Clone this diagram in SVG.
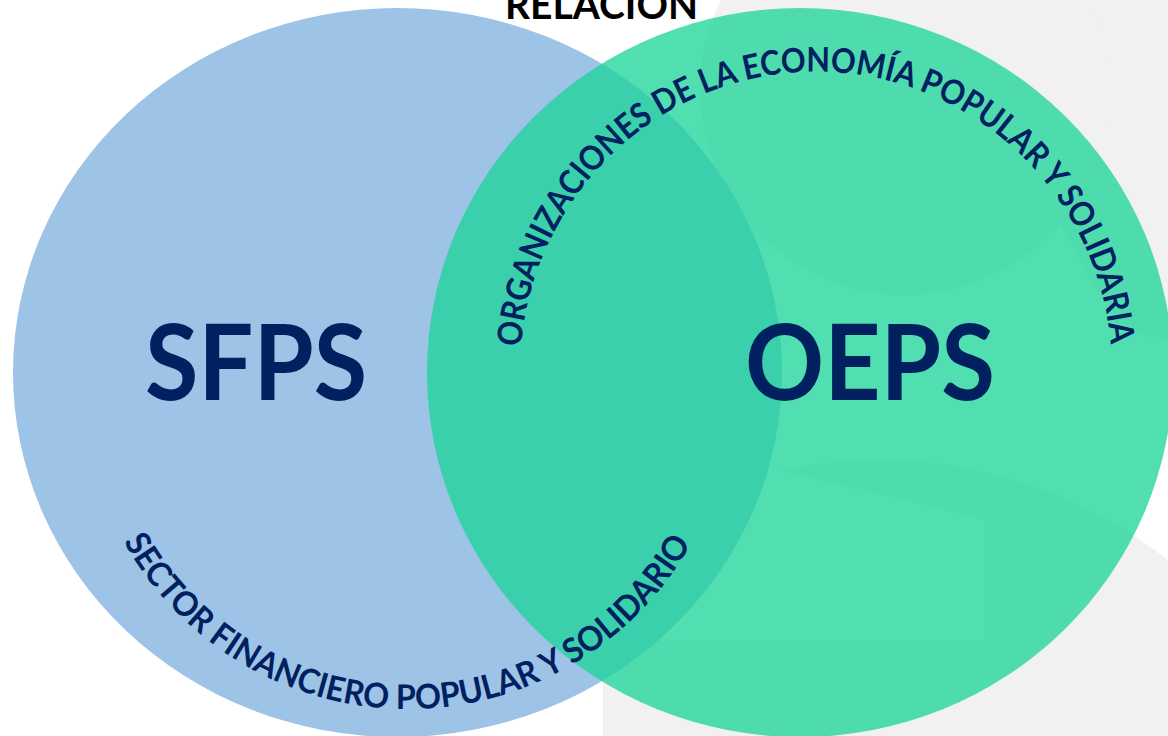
<svg xmlns="http://www.w3.org/2000/svg" width="1168" height="736" viewBox="0 0 1168 736">
  <defs>
    <style>
      .bg { fill: #f1f1f3; }
      .label { font-family: Lato, "Open Sans", "Liberation Sans", sans-serif; font-weight: 700; fill: #002060; }
      .arc { font-family: Lato, "Open Sans", "Liberation Sans", sans-serif; font-weight: 700; fill: #002060; font-size: 34px; }
      .title { font-family: Lato, "Open Sans", "Liberation Sans", sans-serif; font-weight: 700; fill: #000000; font-size: 40px; }
    </style>
    <path id="arcBottom" d="M 123.7 541.6 A 325 325 0 0 0 692.3 541.6"/>
    <path id="arcTop" d="M 521 347 A 296 300 0 0 1 1111 347"/>
  </defs>

  <g id="background">
    <rect x="0" y="0" width="1168" height="736" fill="#ffffff"/>
    <polygon class="bg" points="900,0 1168,0 1168,340 1120,330 1000,120"/>
    <circle class="bg" cx="905" cy="90" r="205" fill="#eeeef0"/>
    <polygon class="bg" points="603,640 985,640 985,736 603,736"/>
    <polygon class="bg" points="1075,600 1168,560 1168,736 1122,736"/>
    <path class="bg" d="M 780 470 Q 1000 430 1168 560 L 1168 736 L 985 736 L 985 520 Z" fill="#f3f3f5"/>
  </g>

  <g id="node-sfps">
    <ellipse cx="397.5" cy="372.5" rx="384.5" ry="364.5" fill="#9dc3e6"/>
  </g>

  <g id="node-oeps">
    <ellipse cx="800" cy="372.5" rx="373" ry="364.5" fill="#1ad399" fill-opacity="0.76"/>
  </g>

  <g id="labels">
    <text class="label" x="145" y="400" font-size="105" textLength="222" lengthAdjust="spacingAndGlyphs">SFPS</text>
    <text class="label" x="745" y="400" font-size="105" textLength="250" lengthAdjust="spacingAndGlyphs">OEPS</text>
    <text class="arc"><textPath href="#arcBottom" textLength="690" lengthAdjust="spacingAndGlyphs">SECTOR FINANCIERO POPULAR Y SOLIDARIO</textPath></text>
    <text class="arc"><textPath href="#arcTop" textLength="884" lengthAdjust="spacingAndGlyphs">ORGANIZACIONES DE LA ECONOMÍA POPULAR Y SOLIDARIA</textPath></text>
  </g>

  <g id="title">
    <text class="title" x="505" y="19" textLength="193" lengthAdjust="spacingAndGlyphs">RELACIÓN</text>
  </g>

  <g id="connectors"></g>
</svg>
